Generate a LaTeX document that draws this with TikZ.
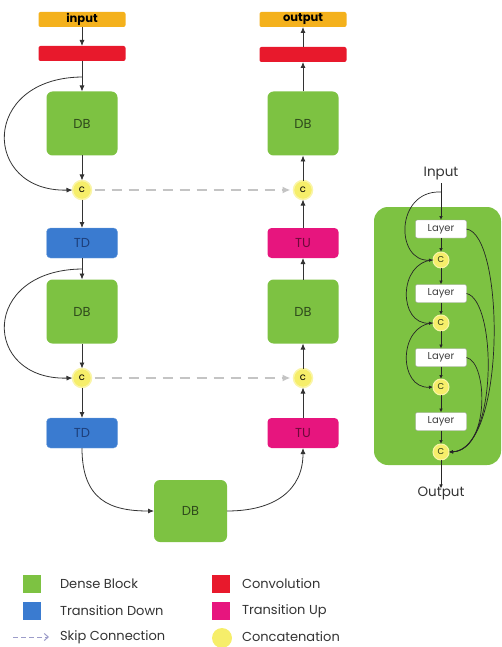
\documentclass[tikz,border=0pt]{standalone}
\usepackage{fontspec}
\setmainfont{Poppins}
\usetikzlibrary{arrows.meta}
\definecolor{cOrange}{HTML}{F4B11C}
\definecolor{cRed}{HTML}{E8192C}
\definecolor{cGreen}{HTML}{7DC242}
\definecolor{cBlue}{HTML}{3A7BD0}
\definecolor{cPink}{HTML}{E7157E}
\definecolor{cYellow}{HTML}{F6EE6A}
\definecolor{cYellowRim}{HTML}{FAF5A8}
\definecolor{cLine}{HTML}{333333}
\definecolor{cSkip}{HTML}{C4C4C4}
\definecolor{cDBtext}{HTML}{2F4A1C}
\definecolor{cTDtext}{HTML}{1E3F7A}
\definecolor{cTUtext}{HTML}{6E0A3A}
\tikzset{
  every node/.style={inner sep=0pt, outer sep=0pt},
  ionode/.style={fill=cOrange, rounded corners=2pt, minimum width=87pt, minimum height=15pt, font=\fontsize{11.5}{11.5}\selectfont\bfseries},
  convnode/.style={fill=cRed, rounded corners=2pt, minimum width=87pt, minimum height=15pt},
  dbnode/.style={fill=cGreen, rounded corners=6pt, minimum width=71pt, minimum height=64pt, text=cDBtext, font=\fontsize{13}{13}\selectfont},
  tdnode/.style={fill=cBlue, draw=cBlue!70!white, rounded corners=4pt, minimum width=71pt, minimum height=30pt, text=cTDtext, font=\fontsize{13}{13}\selectfont},
  tunode/.style={fill=cPink, rounded corners=4pt, minimum width=71pt, minimum height=30pt, text=cTUtext, font=\fontsize{13}{13}\selectfont},
  catnode/.style={circle, fill=cYellow, draw=cYellowRim, line width=1.5pt, minimum size=19pt, font=\fontsize{10}{10}\selectfont},
  smallcat/.style={circle, fill=cYellow, draw=cYellowRim, line width=1pt, minimum size=16pt, text=cDBtext!70!black, font=\fontsize{8.5}{8.5}\selectfont},
  layernode/.style={fill=white, draw=gray!70, rounded corners=2pt, minimum width=51pt, minimum height=18pt, font=\fontsize{10}{10}\selectfont, text=black!75},
  conn/.style={draw=cLine, line width=0.8pt, -{Latex[length=6pt,width=5pt]}},
  sconn/.style={draw=black!85, line width=0.7pt, -{Latex[length=4pt,width=3.5pt]}},
  skip/.style={draw=cSkip, line width=2.3pt, dash pattern=on 10pt off 7pt, -{Latex[length=8pt,width=7pt]}},
  legtext/.style={anchor=west, font=\fontsize{13}{13}\selectfont, text=black!80},
  legbox/.style={minimum width=18pt, minimum height=18pt},
}
\begin{document}
\begin{tikzpicture}[x=1pt,y=-1pt]
\useasboundingbox (0,0) rectangle (501,647);
% ---------- left column ----------
\node[ionode] (in) at (82,19.5) {input};
\node[convnode] (cvL) at (82,53.5) {};
\node[dbnode] (db1L) at (82,123.5) {DB};
\node[catnode] (c1L) at (82,190) {c};
\node[tdnode] (td1) at (82,243) {TD};
\node[dbnode] (db2L) at (82,311.5) {DB};
\node[catnode] (c2L) at (82,378) {c};
\node[tdnode] (td2) at (82,433) {TD};
% ---------- bottom ----------
\node[dbnode, minimum width=73pt, minimum height=62pt] (db3) at (190.5,511) {DB};
% ---------- right column ----------
\node[ionode] (out) at (303,19.5) {output};
\node[convnode] (cvR) at (303,54.5) {};
\node[dbnode] (db1R) at (303,123.5) {DB};
\node[catnode] (c1R) at (303,190) {c};
\node[tunode] (tu1) at (303,243) {TU};
\node[dbnode] (db2R) at (303,311.5) {DB};
\node[catnode] (c2R) at (303,378) {c};
\node[tunode] (tu2) at (303,433) {TU};
% branch points
\coordinate (b1) at (82,77);
\coordinate (b2) at (82,269);
% ---------- left arrows ----------
\draw[conn] (in) -- (cvL);
\draw[conn] (cvL) -- (db1L);
\draw[conn] (db1L) -- (c1L);
\draw[conn] (c1L) -- (td1);
\draw[conn] (td1) -- (db2L);
\draw[conn] (db2L) -- (c2L);
\draw[conn] (c2L) -- (td2);
\draw[conn] (b1) .. controls (-20,78) and (-18,192) .. (c1L.west);
\draw[conn] (b2) .. controls (-20,270) and (-18,380) .. (c2L.west);
% ---------- bottom arrows ----------
\draw[conn] (td2.south) .. controls (82,500) and (110,511) .. (db3.west);
\draw[conn] (db3.east) .. controls (275,511) and (303,490) .. (tu2.south);
% ---------- right arrows ----------
\draw[conn] (tu2) -- (c2R);
\draw[conn] (c2R) -- (db2R);
\draw[conn] (db2R) -- (tu1);
\draw[conn] (tu1) -- (c1R);
\draw[conn] (c1R) -- (db1R);
\draw[conn] (db1R) -- (cvR);
\draw[conn] (cvR) -- (out);
% ---------- skip connections ----------
\draw[skip] (c1L.east) ++(3,0) -- ([xshift=-3pt]c1R.west);
\draw[skip] (c2L.east) ++(3,0) -- ([xshift=-3pt]c2R.west);
% ---------- dense block detail ----------
\fill[cGreen] (374,207) [rounded corners=14pt] rectangle (501,465);
\node[font=\fontsize{13.5}{13.5}\selectfont, text=black!80] (inp) at (441,174) {Input};
\node[layernode] (l1) at (441,229) {Layer};
\node[smallcat] (k1) at (441,260) {C};
\node[layernode] (l2) at (441,293.5) {Layer};
\node[smallcat] (k2) at (441,323) {C};
\node[layernode] (l3) at (441,357.5) {Layer};
\node[smallcat] (k3) at (441,387) {C};
\node[layernode] (l4) at (441,421.5) {Layer};
\node[smallcat] (k4) at (441,452) {C};
\node[font=\fontsize{13.5}{13.5}\selectfont, text=black!80] (outp) at (441,493) {Output};
\coordinate (ib) at (441,192);
\draw[sconn] (inp.south) ++(0,3) -- (l1);
\draw[sconn] (l1) -- (k1);
\draw[sconn] (k1) -- (l2);
\draw[sconn] (l2) -- (k2);
\draw[sconn] (k2) -- (l3);
\draw[sconn] (l3) -- (k3);
\draw[sconn] (k3) -- (l4);
\draw[sconn] (l4) -- (k4);
\draw[sconn] (k4) -- ([yshift=-2pt]outp.north);
\draw[sconn] (ib) .. controls (395,190) and (395,262) .. (k1.west);
\draw[sconn] (k1.west) .. controls (398,262) and (398,325) .. (k2.west);
\draw[sconn] (k2.west) .. controls (398,325) and (398,389) .. (k3.west);
\draw[sconn] (l1.east) .. controls (505,235) and (506,450) .. (k4.east);
\draw[sconn] (l2.east) .. controls (497,300) and (498,450) .. (k4.east);
\draw[sconn] (l3.east) .. controls (488,362) and (490,450) .. (k4.east);
% ---------- legend ----------
\node[legbox, fill=cGreen] (lgG) at (32,584) {};
\node[legtext] (tG) at (60,584) {Dense Block};
\node[legbox, fill=cBlue] (lgB) at (32,611) {};
\node[legtext] (tB) at (60,611) {Transition Down};
\coordinate (sk1) at (13,637);
\coordinate (sk2) at (49,637);
\draw[draw=gray!70!blue!60, line width=1pt, dash pattern=on 5pt off 3pt, -{Straight Barb[length=4pt,width=7pt]}] (sk1) -- (sk2);
\node[legtext] (tS) at (60,637) {Skip Connection};
\node[legbox, fill=cRed] (lgR) at (221,584) {};
\node[legtext] (tR) at (242,584) {Convolution};
\node[legbox, fill=cPink] (lgP) at (221,611) {};
\node[legtext] (tP) at (242,611) {Transition Up};
\node[circle, fill=cYellow, minimum size=20pt] (lgY) at (222,638) {};
\node[legtext] (tY) at (242,637) {Concatenation};
\end{tikzpicture}
\end{document}
